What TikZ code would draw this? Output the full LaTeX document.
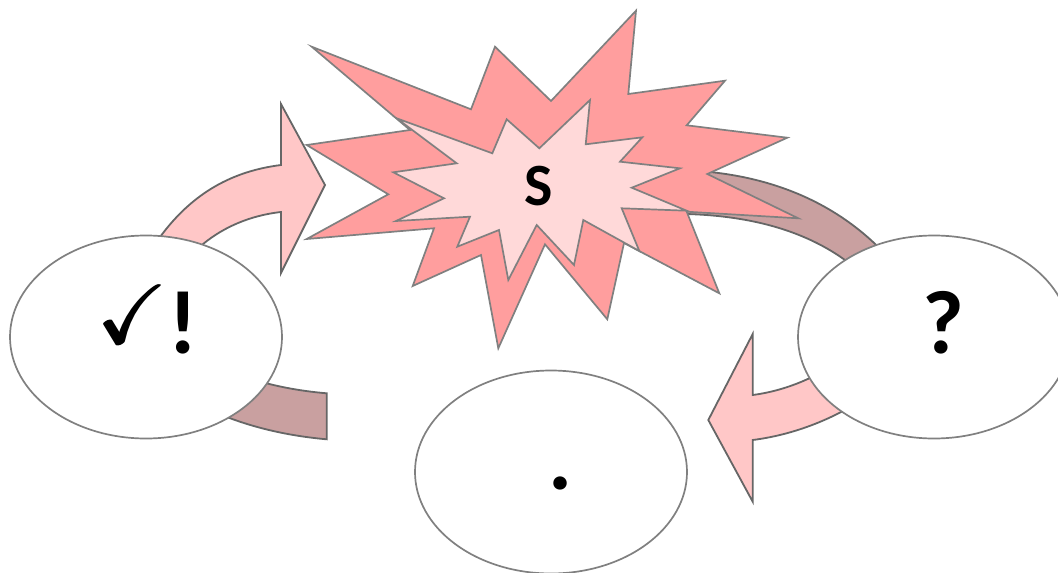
\documentclass[tikz,border=0pt]{standalone}
\usepackage{amssymb}
\usepackage{fontspec}
\usetikzlibrary{shapes.geometric}
\newfontfamily\carlito{Carlito}
\definecolor{starOuter}{HTML}{FF9E9E}
\definecolor{starInner}{HTML}{FFD9D9}
\definecolor{pinkArrow}{HTML}{FFC7C7}
\definecolor{brownArc}{HTML}{C9A0A0}
\definecolor{edgeGray}{HTML}{808080}
\definecolor{arrowGray}{HTML}{666666}
\newcommand{\heavycheck}{\fontsize{84}{88}\selectfont\rlap{$\checkmark$}\kern1.2pt\rlap{$\checkmark$}\kern1.2pt$\checkmark$}
\tikzset{
  bubble/.style={ellipse, draw=edgeGray, fill=white, line width=1.7pt,
    minimum width=272pt, minimum height=203pt, inner sep=0pt},
  burst/.style={draw=edgeGray, line width=1.7pt, line join=miter},
  pinkband/.style={draw=arrowGray, fill=pinkArrow, line width=1.8pt, line join=miter},
  brownband/.style={draw=arrowGray, fill=brownArc, line width=1.8pt, line join=miter},
  bigtxt/.style={font=\carlito\bfseries\fontsize{90}{96}\selectfont, inner sep=0pt, anchor=base},
  stxt/.style={font=\carlito\bfseries\fontsize{60}{66}\selectfont, inner sep=0pt, anchor=base}
}
\begin{document}
\begin{tikzpicture}[x=1pt,y=-1pt]
\useasboundingbox (0,0) rectangle (1058,573);

% brown arcs (behind everything)
\draw[brownband] (660,170) .. controls (760,168) and (840,200) .. (895,265)
  -- (860,272) .. controls (810,228) and (740,212) .. (660,214) -- cycle;
\draw[brownband] (326.7,393.3) .. controls (300,391) and (270,386) .. (240,375)
  -- (210,410) .. controls (250,428) and (290,436) .. (326.7,439.3) -- cycle;

% starburst
\draw[burst, fill=starOuter] (311.7,46.7) -- (471,109.3) -- (495,46.7) -- (551,101)
  -- (636,10.7) -- (628.3,94) -- (725,80.7) -- (686.7,125.3) -- (787.3,137.7)
  -- (707.3,174) -- (798.3,218.3) -- (686.7,211.7) -- (719.3,293.3) -- (624,243)
  -- (607.3,319.3) -- (545,244.3) -- (498.3,348.3) -- (481,255) -- (412.7,286)
  -- (434,228.3) -- (306.7,239) -- (388.3,194.3) -- (306.7,145) -- (410,130) -- cycle;
\draw[burst, fill=starInner] (396.7,118.3) -- (492.3,153.3) -- (506.7,119.3)
  -- (539.3,148.3) -- (590,100) -- (585.7,144.3) -- (642.3,137.3) -- (620,161.7)
  -- (680,168.3) -- (631.7,187.7) -- (686.7,210.7) -- (621.7,208.3) -- (639.3,251)
  -- (583.3,220) -- (574,265) -- (536.7,225) -- (508.3,280) -- (499,230)
  -- (457.3,246.7) -- (470,216.7) -- (396,221) -- (444,198.3) -- (393.3,172.3)
  -- (456.7,163.3) -- cycle;

% pink block arrows
\draw[pinkband] (145,260) .. controls (180,200) and (225,172) .. (281,165)
  -- (281,104) -- (325,185) -- (281,273) -- (281,212)
  .. controls (245,216) and (210,232) .. (185,262) -- cycle;
\draw[pinkband] (850,355) .. controls (820,375) and (790,390) .. (752.7,395)
  -- (752.7,334) -- (708.3,420) -- (752.7,501.7) -- (752.7,440)
  .. controls (800,434) and (840,415) .. (870,395) -- cycle;

% ellipses
\node[bubble] (left) at (146,337) {};
\node[bubble] (right) at (934,337) {};
\node[bubble] (bottom) at (551,472) {};

% texts
\node[inner sep=0pt, anchor=base west] (lefttxt) at (96,353)
  {\raisebox{10pt}{\heavycheck}{\carlito\bfseries\fontsize{90}{96}\selectfont !}};
\node[bigtxt] (quest) at (943,353) {?};
\node[bigtxt] (dot) at (560.5,489) {.};
\node[stxt] (s) at (538.3,205) {S};
\end{tikzpicture}
\end{document}
